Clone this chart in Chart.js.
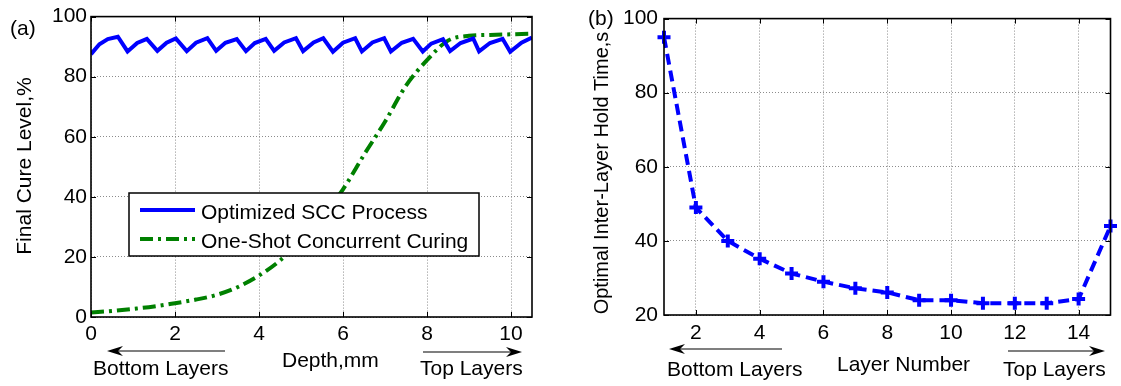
<!DOCTYPE html>
<html>
<head>
<meta charset="utf-8">
<script src="https://cdn.jsdelivr.net/npm/chart.js@4"></script>
<style>
  body { margin: 0; background: #fff; }
  canvas { position: absolute; top: 0; }
  #cureChart { left: 0; }
  #holdChart { left: 560px; }
</style>
</head>
<body>
<canvas id="cureChart" width="560" height="386"></canvas>
<canvas id="holdChart" width="561" height="386"></canvas>
<script>
// (a) final cure level vs depth
const sccDepth = [0, 0.2, 0.4, 0.64, 0.87, 1.1, 1.33, 1.58, 1.8, 2.02, 2.28, 2.5, 2.77, 2.98, 3.2, 3.47,
    3.69, 3.9, 4.16, 4.36, 4.6, 4.88, 5.05, 5.3, 5.53, 5.76, 6.0, 6.29, 6.45, 6.7, 6.98, 7.14, 7.4,
    7.67, 7.9, 8.1, 8.38, 8.55, 8.8, 9.1, 9.24, 9.5, 9.8, 9.98, 10.25, 10.5];
const sccCure = [87.5, 90.8, 92.5, 93.3, 88.4, 91.2, 92.6, 88.6, 91.3, 92.7, 88.5, 91.3, 92.8, 88.6, 91.3, 92.5,
    88.5, 91.2, 92.6, 88.6, 91.4, 92.8, 88.5, 91.4, 92.8, 88.3, 91.3, 92.8, 88.4, 91.4, 92.8, 88.4, 91.3,
    92.6, 88.4, 91.0, 92.5, 88.5, 91.2, 92.7, 88.4, 91.2, 92.6, 88.3, 91.3, 93.0];
const oneShotDepth = [0, 0.5, 1, 1.5, 2, 2.5, 3, 3.5, 4, 4.5, 5, 5.5, 6, 6.5, 7, 7.5, 8, 8.5, 9, 9.5, 10, 10.5];
const oneShotCure = [1.5, 2, 2.7, 3.5, 4.6, 5.8, 7.4, 10, 13.8, 18.8, 25.5, 33.5, 42.5, 54, 65, 77, 85.5, 92, 93.6, 93.9, 94.1, 94.3];
const depthTicks = [0, 2, 4, 6, 8, 10];
const cureTicks = [0, 20, 40, 60, 80, 100];

// (b) optimal hold time per layer
const layers = [1, 2, 3, 4, 5, 6, 7, 8, 9, 10, 11, 12, 13, 14, 15];
const holdTime = [95, 49, 40, 35.2, 31.2, 29, 27.2, 26.1, 24, 24, 23.2, 23.2, 23.2, 24.3, 44];
const layerTicks = [2, 4, 6, 8, 10, 12, 14];
const holdTicks = [20, 40, 60, 80, 100];

const FONT = { family: 'Liberation Sans, Arial, sans-serif', size: 21, lineHeight: 1.2 };
const fontStr = '21px "Liberation Sans", Arial, sans-serif';

function arrow(ctx, x1, y, x2) {
    // tail at x1, head at x2
    const dir = Math.sign(x2 - x1);
    ctx.beginPath();
    ctx.moveTo(x1, y);
    ctx.lineTo(x2 - dir * 10, y);
    ctx.stroke();
    ctx.beginPath();
    ctx.moveTo(x2, y);
    ctx.lineTo(x2 - dir * 16, y - 5);
    ctx.lineTo(x2 - dir * 11, y);
    ctx.lineTo(x2 - dir * 16, y + 5);
    ctx.closePath();
    ctx.fill();
}

const decor = {
    id: 'decor',
    afterDraw(chart, args, o) {
        const { ctx, chartArea: a, scales } = chart;
        ctx.save();
        ctx.strokeStyle = '#000';
        ctx.fillStyle = '#000';
        ctx.lineWidth = 1;
        // inward tick marks like matlab
        ctx.beginPath();
        scales.x.ticks.forEach(t => {
            const px = Math.round(scales.x.getPixelForValue(t.value)) + 0.5;
            ctx.moveTo(px, a.bottom); ctx.lineTo(px, a.bottom - 5);
            ctx.moveTo(px, a.top); ctx.lineTo(px, a.top + 5);
        });
        scales.y.ticks.forEach(t => {
            const py = Math.round(scales.y.getPixelForValue(t.value)) + 0.5;
            ctx.moveTo(a.left, py); ctx.lineTo(a.left + 5, py);
            ctx.moveTo(a.right, py); ctx.lineTo(a.right - 5, py);
        });
        ctx.stroke();
        ctx.lineWidth = 1.6;
        ctx.strokeRect(a.left, a.top, a.width, a.height);

        ctx.font = fontStr;
        ctx.textBaseline = 'middle';
        ctx.textAlign = 'left';
        ctx.fillText(o.panel[0], o.panel[1], o.panel[2]);
        ctx.fillText(o.xTitle[0], o.xTitle[1], o.xTitle[2]);
        ctx.fillText('Bottom Layers', o.bottomText[0], o.bottomText[1]);
        ctx.fillText('Top Layers', o.topText[0], o.topText[1]);

        // y title, rotated
        ctx.save();
        ctx.font = o.yTitle[3] + 'px "Liberation Sans", Arial, sans-serif';
        ctx.translate(o.yTitle[1], o.yTitle[2]);
        ctx.rotate(-Math.PI / 2);
        ctx.textAlign = 'center';
        ctx.fillText(o.yTitle[0], 0, 0);
        ctx.restore();

        ctx.lineWidth = 1.2;
        arrow(ctx, o.leftArrow[1], o.leftArrow[2], o.leftArrow[0]);
        arrow(ctx, o.rightArrow[0], o.rightArrow[2], o.rightArrow[1]);

        if (o.legend) {
            const [lx, ly, lw, lh] = o.legend;
            ctx.fillStyle = '#fff';
            ctx.fillRect(lx, ly, lw, lh);
            ctx.lineWidth = 1.5;
            ctx.strokeStyle = '#000';
            ctx.strokeRect(lx, ly, lw, lh);
            chart.data.datasets.forEach((ds, i) => {
                const yy = ly + 17 + i * 29;
                ctx.strokeStyle = ds.borderColor;
                ctx.lineWidth = ds.borderWidth;
                ctx.setLineDash(ds.borderDash || []);
                ctx.beginPath();
                ctx.moveTo(lx + 11, yy);
                ctx.lineTo(lx + 66, yy);
                ctx.stroke();
                ctx.setLineDash([]);
                ctx.fillStyle = '#000';
                ctx.fillText(ds.label, lx + 72, yy + 3);
            });
        }
        ctx.restore();
    }
};

function axes(xMin, xMax, xTicks, yMin, yMax, yTicks, yAxisWidth, yTickPad, xAxisHeight, xTickPad) {
    const grid = { color: '#8c8c8c', lineWidth: 1, drawTicks: false };
    const border = { display: false, dash: [1, 2] };
    return {
        x: {
            type: 'linear', min: xMin, max: xMax,
            afterBuildTicks: s => { s.ticks = xTicks.map(v => ({ value: v })); },
            afterFit: s => { s.height = xAxisHeight; },
            grid, border,
            ticks: { color: '#000', font: FONT, padding: xTickPad, maxRotation: 0 }
        },
        y: {
            min: yMin, max: yMax,
            afterBuildTicks: s => { s.ticks = yTicks.map(v => ({ value: v })); },
            afterFit: s => { s.width = yAxisWidth; },
            grid, border,
            ticks: { color: '#000', font: FONT, padding: yTickPad }
        }
    };
}

new Chart(document.getElementById('cureChart'), {
    type: 'line',
    data: {
        datasets: [
            {
                label: 'Optimized SCC Process',
                data: sccDepth.map((d, i) => ({ x: d, y: sccCure[i] })),
                borderColor: '#0000ff',
                borderWidth: 4,
                pointRadius: 0,
                fill: false
            },
            {
                label: 'One-Shot Concurrent Curing',
                data: oneShotDepth.map((d, i) => ({ x: d, y: oneShotCure[i] })),
                borderColor: '#008000',
                borderWidth: 4,
                borderDash: [13, 5, 3, 5],
                pointRadius: 0,
                fill: false,
                cubicInterpolationMode: 'monotone'
            }
        ]
    },
    options: {
        responsive: false,
        animation: false,
        devicePixelRatio: 1,
        layout: { padding: { top: 14, right: 28, left: 0, bottom: 0 } },
        scales: axes(0, 10.5, depthTicks, 0, 100, cureTicks, 91, 4, 69, 5),
        plugins: {
            legend: { display: false },
            tooltip: { enabled: false },
            decor: {
                panel: ['(a)', 10, 29],
                yTitle: ['Final Cure Level,%', 25, 166, 21],
                xTitle: ['Depth,mm', 282, 361],
                bottomText: [93, 369],
                topText: [420, 369],
                leftArrow: [107, 225, 351],
                rightArrow: [423, 522, 352],
                legend: [129, 193, 350, 63]
            }
        }
    },
    plugins: [decor]
});

new Chart(document.getElementById('holdChart'), {
    type: 'line',
    data: {
        datasets: [{
            label: 'Hold Time',
            data: layers.map((l, i) => ({ x: l, y: holdTime[i] })),
            borderColor: '#0000ff',
            backgroundColor: '#0000ff',
            borderWidth: 4,
            borderDash: [11, 6],
            pointStyle: 'cross',
            pointRadius: 6.5,
            pointBorderWidth: 4,
            clip: false,
            fill: false
        }]
    },
    options: {
        responsive: false,
        animation: false,
        devicePixelRatio: 1,
        layout: { padding: { top: 14, right: 5, left: 0, bottom: 0 } },
        scales: axes(1, 15, layerTicks, 20, 100, holdTicks, 104, 6, 71, 6),
        plugins: {
            legend: { display: false },
            tooltip: { enabled: false },
            decor: {
                panel: ['(b)', 28, 19],
                yTitle: ['Optimal Inter-Layer Hold Time,s', 42, 173, 20],
                xTitle: ['Layer Number', 277, 365],
                bottomText: [107, 370],
                topText: [443, 370],
                leftArrow: [109, 222, 349],
                rightArrow: [448, 545, 351]
            }
        }
    },
    plugins: [decor]
});
</script>
</body>
</html>
